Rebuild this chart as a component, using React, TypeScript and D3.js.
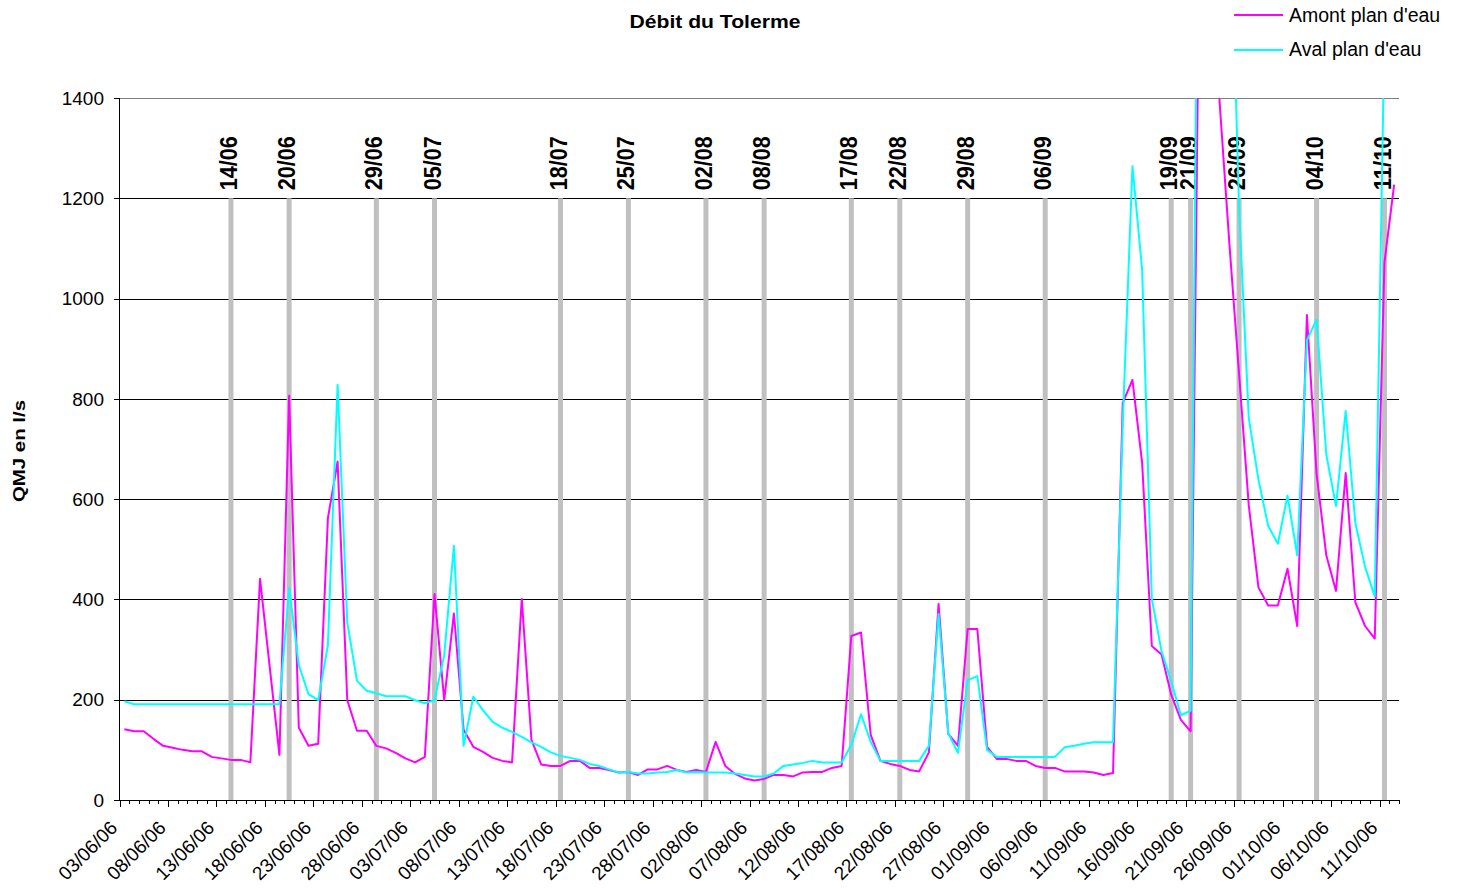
import React from 'react';
import * as d3 from 'd3';

// daily categories: 03/06/06 -> 12/10/06
const START_DATE = new Date(2006, 5, 3);
const DAY_COUNT = 132;
const days = d3.timeDay.range(START_DATE, d3.timeDay.offset(START_DATE, DAY_COUNT));
const categories = days.map(d3.timeFormat('%d/%m/%y'));

// débit amont plan d'eau (l/s)
const amont = [
  141, 137, 137, 122, 108, 104, 100, 97, 97, 86,
  83, 80, 80, 75, 441, 265, 90, 806, 144, 108,
  112, 562, 675, 199, 138, 138, 108, 103, 94, 83,
  75, 86, 411, 199, 372, 140, 106, 96, 84, 78,
  75, 401, 120, 71, 68, 68, 78, 78, 64, 64,
  60, 55, 56, 50, 61, 61, 68, 60, 56, 60,
  56, 116, 68, 52, 43, 39, 42, 50, 50, 47,
  55, 56, 56, 64, 68, 327, 334, 130, 78, 72,
  68, 60, 57, 95, 391, 132, 108, 341, 341, 106,
  82, 82, 78, 78, 68, 64, 64, 57, 57, 57,
  55, 50, 54, 792, 838, 673, 307, 290, 210, 160,
  137, 1870, 1800, 1390, 1110, 850, 588, 424, 388, 388,
  461, 347, 967, 650, 488, 417, 652, 394, 347, 322,
  1072, 1227,
];

// débit aval plan d'eau (l/s)
const aval = [
  197, 191, 191, 191, 191, 191, 191, 191, 191, 191,
  191, 191, 191, 191, 191, 191, 191, 423, 269, 211,
  199, 309, 828, 354, 238, 218, 213, 207, 207, 207,
  199, 193, 199, 289, 507, 108, 206, 179, 156, 144,
  136, 126, 115, 106, 95, 88, 84, 80, 72, 68,
  61, 55, 56, 53, 53, 55, 56, 60, 55, 56,
  55, 55, 55, 53, 50, 47, 47, 53, 68, 71,
  74, 78, 75, 75, 75, 110, 171, 116, 78, 78,
  78, 78, 78, 108, 371, 133, 94, 239, 247, 100,
  86, 86, 86, 86, 86, 86, 86, 105, 108, 112,
  115, 115, 115, 750, 1264, 1058, 401, 297, 237, 169,
  178, 2400, 2500, 2400, 1870, 1180, 762, 639, 547, 511,
  607, 488, 917, 958, 689, 586, 776, 552, 465, 406,
  1530, 1600,
];

// dates marquées par une barre grise
const events = [
  '14/06', '20/06', '29/06', '05/07', '18/07', '25/07', '02/08', '08/08',
  '17/08', '22/08', '29/08', '06/09', '19/09', '21/09', '26/09', '04/10', '11/10',
];

const yTicks = [0, 200, 400, 600, 800, 1000, 1200, 1400];

const W = 1457;
const H = 888;
const left = 119.5, right = 1399, top = 98, bottom = 800;
const FONT = '"Liberation Sans", Arial, sans-serif';

export default function App() {
  const x = d3.scaleBand<string>().domain(categories).range([left, right]).padding(0);
  const bw = x.bandwidth();
  const cx = (c: string) => (x(c) as number) + bw / 2;
  const y = d3.scaleLinear().domain([0, 1400]).range([bottom, top]);

  const line = d3.line<number>()
    .x((_, i) => cx(categories[i]))
    .y(v => y(v));

  return (
    <svg width={W} height={H} style={{ position: 'absolute', left: 0, top: 0, background: '#fff' }}
      fontFamily={FONT}>
      <defs>
        <clipPath id="plot">
          <rect x={left} y={top} width={right - left} height={bottom - top} />
        </clipPath>
      </defs>

      {/* grille */}
      {yTicks.map(t => (
        <line key={t} x1={left} x2={right} y1={Math.round(y(t)) + 0.5} y2={Math.round(y(t)) + 0.5}
          stroke={t === 1400 ? '#808080' : '#000'} strokeWidth={1} shapeRendering="crispEdges" />
      ))}

      {/* barres des dates */}
      {events.map(e => {
        const c = categories.find(k => k.startsWith(e)) as string;
        const bx = cx(c);
        return (
          <g key={e}>
            <rect x={bx - 2.5} y={y(1200)} width={5} height={y(0) - y(1200)} fill="#c0c0c0" />
            <text transform={`translate(${bx - 2},${y(1200) - 8}) rotate(-90)`} dy="0.35em"
              fontSize={23} fontWeight="bold" textLength={54} lengthAdjust="spacingAndGlyphs">{e}</text>
          </g>
        );
      })}

      {/* axes */}
      <line x1={left} x2={left} y1={top} y2={bottom} stroke="#000" shapeRendering="crispEdges" />
      <line x1={left} x2={right} y1={bottom + 0.5} y2={bottom + 0.5} stroke="#000" shapeRendering="crispEdges" />
      {yTicks.map(t => (
        <g key={t}>
          <line x1={left - 6} x2={left} y1={Math.round(y(t)) + 0.5} y2={Math.round(y(t)) + 0.5} stroke="#000"
            shapeRendering="crispEdges" />
          <text x={104} y={y(t)} dy="0.35em" textAnchor="end" fontSize={19}>{t}</text>
        </g>
      ))}
      {d3.range(categories.length + 1).map(i => {
        const tx = Math.round(left + i * bw) + 0.5;
        const major = i % 5 === 0;
        return (
          <line key={i} x1={tx} x2={tx} y1={bottom} y2={bottom + (major ? 7 : 4)} stroke="#000"
            shapeRendering="crispEdges" />
        );
      })}
      {categories.filter((_, i) => i % 5 === 0).map(c => (
        <text key={c} transform={`translate(${(x(c) as number) - 1},${829}) rotate(-45)`} textAnchor="end"
          fontSize={19}>{c}</text>
      ))}

      {/* séries */}
      <g clipPath="url(#plot)" fill="none" strokeWidth={2} strokeLinejoin="round">
        <path d={line(amont) as string} stroke="#ff00ff" />
        <path d={line(aval) as string} stroke="#00ffff" />
      </g>

      {/* titres */}
      <text x={715} y={28} textAnchor="middle" fontSize={18.5} fontWeight="bold" textLength={171}
        lengthAdjust="spacingAndGlyphs">Débit du Tolerme</text>
      <text transform="translate(25,451) rotate(-90)" textAnchor="middle" fontSize={17} fontWeight="bold"
        textLength={102} lengthAdjust="spacingAndGlyphs">QMJ en l/s</text>

      {/* légende */}
      <line x1={1234} x2={1283} y1={15} y2={15} stroke="#ff00ff" strokeWidth={2} />
      <text x={1289} y={22} fontSize={19.5}>Amont plan d'eau</text>
      <line x1={1234} x2={1283} y1={50} y2={50} stroke="#00ffff" strokeWidth={2} />
      <text x={1289} y={56} fontSize={19.5}>Aval plan d'eau</text>
    </svg>
  );
}
